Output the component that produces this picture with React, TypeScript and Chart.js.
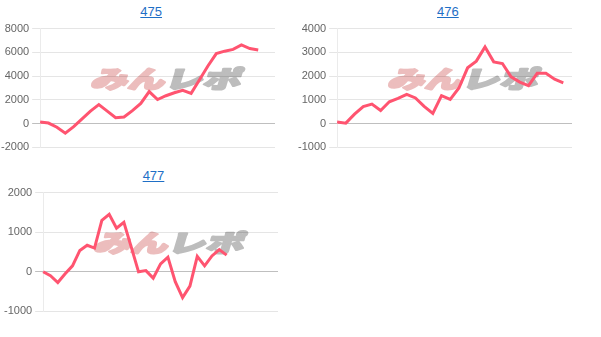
import React, { useEffect, useRef } from "react";
import { Chart, registerables } from "chart.js";

Chart.register(...registerables);

// Machine numbers shown as chart headings
const machineIds = ["475", "476", "477"];

// Hidden x-axis categories (game checkpoints) for each machine
const labels475 = ["1","2","3","4","5","6","7","8","9","10","11","12","13","14","15","16","17","18","19","20","21","22","23","24","25","26","27","28","29"];
const labels476 = ["1","2","3","4","5","6","7","8","9","10","11","12","13","14","15","16","17","18","19","20","21","22","23","24","25","26","27","28"];
const labels477 = ["1","2","3","4","5","6","7","8","9","10","11","12","13","14","15","16","17","18","19","20","21","22","23","24","25","26","27","28","29","30","31","32","33"];

// Coin difference series
const diff475 = [140, 50, -300, -800, -250, 400, 1050, 1600, 1050, 500, 560, 1100, 1700, 2700, 2030, 2350, 2600, 2800, 2550, 3700, 4850, 5900, 6100, 6250, 6620, 6320, 6200];
const diff476 = [70, 20, 400, 720, 820, 550, 920, 1060, 1230, 1080, 730, 430, 1180, 1020, 1500, 2350, 2630, 3230, 2600, 2530, 1970, 1750, 1600, 2120, 2120, 1870, 1720];
const diff477 = [0, -100, -270, -50, 150, 540, 670, 600, 1300, 1450, 1100, 1250, 630, 0, 30, -160, 200, 370, -250, -650, -360, 390, 150, 400, 560, 420];

// Y-axis ranges and tick steps
const yMin = [-2000, -1000, -1000];
const yMax = [8000, 4000, 2000];
const yStep = [2000, 1000, 1000];

const panelLabels = [labels475, labels476, labels477];
const panelData = [diff475, diff476, diff477];
const panelPos = [
  { left: 2.7, top: 0 },
  { left: 299.4, top: 0 },
  { left: 5, top: 164 },
];

const FONT = "'Liberation Sans', Arial, Helvetica, sans-serif";

// Draws the site logo behind the plot
const logoPlugin = {
  id: "logo",
  beforeDraw(chart: any) {
    const ctx = chart.ctx as CanvasRenderingContext2D;
    const parts = [
      { text: "みん", color: "#ecbdbd", x: 86, w: 74 },
      { text: "レポ", color: "#bdbdbd", x: 160, w: 76 },
    ];
    ctx.save();
    ctx.font = "900 24px 'Noto Sans CJK JP', sans-serif";
    ctx.textBaseline = "alphabetic";
    ctx.lineJoin = "round";
    for (const p of parts) {
      const m = ctx.measureText(p.text).width;
      const sx = p.w / m;
      ctx.save();
      ctx.setTransform(sx, 0, -0.3, 1, p.x + 6, 69);
      ctx.fillStyle = p.color;
      ctx.strokeStyle = p.color;
      ctx.lineWidth = 2;
      ctx.fillText(p.text, 0, 0);
      ctx.strokeText(p.text, 0, 0);
      ctx.restore();
    }
    ctx.restore();
  },
};

function Panel({ idx }: { idx: number }) {
  const ref = useRef<HTMLCanvasElement | null>(null);
  useEffect(() => {
    if (!ref.current) return;
    const chart = new Chart(ref.current, {
      type: "line",
      data: {
        labels: panelLabels[idx],
        datasets: [
          {
            data: panelData[idx],
            borderColor: "rgb(255, 84, 112)",
            backgroundColor: "rgb(255, 84, 112)",
            borderWidth: 3,
            pointRadius: 0,
            tension: 0,
            fill: false,
          },
        ],
      },
      options: {
        responsive: false,
        animation: false,
        plugins: { legend: { display: false }, tooltip: { enabled: false } },
        layout: { padding: 0 },
        scales: {
          x: { display: false },
          y: {
            min: yMin[idx],
            max: yMax[idx],
            ticks: {
              stepSize: yStep[idx],
              color: "#666",
              font: { family: FONT, size: 11 },
              callback: (v: any) => String(v),
            },
            grid: {
              color: (c: any) =>
                c.tick && c.tick.value === 0 ? "rgba(0,0,0,0.25)" : "rgba(0,0,0,0.1)",
            },
            border: { color: "rgba(0,0,0,0.08)" },
          },
        },
      },
      plugins: [logoPlugin],
    });
    return () => chart.destroy();
  }, [idx]);

  const pos = panelPos[idx];
  return (
    <div style={{ position: "absolute", left: pos.left, top: pos.top, width: 297, height: 164 }}>
      <div
        style={{
          position: "absolute",
          left: 0,
          top: 4,
          width: 297,
          height: 16,
          lineHeight: "16px",
          textAlign: "center",
          fontFamily: FONT,
          fontSize: 13,
        }}
      >
        <a href="#" style={{ color: "#1f6fc6", textDecoration: "underline" }}>
          {machineIds[idx]}
        </a>
      </div>
      <canvas
        ref={ref}
        width={277}
        height={138}
        style={{ position: "absolute", left: -4.5, top: 19, width: 277, height: 138 }}
      />
    </div>
  );
}

export default function App() {
  return (
    <div style={{ position: "absolute", left: 0, top: 0, width: 601, height: 337, background: "#fff" }}>
      <Panel idx={0} />
      <Panel idx={1} />
      <Panel idx={2} />
    </div>
  );
}
